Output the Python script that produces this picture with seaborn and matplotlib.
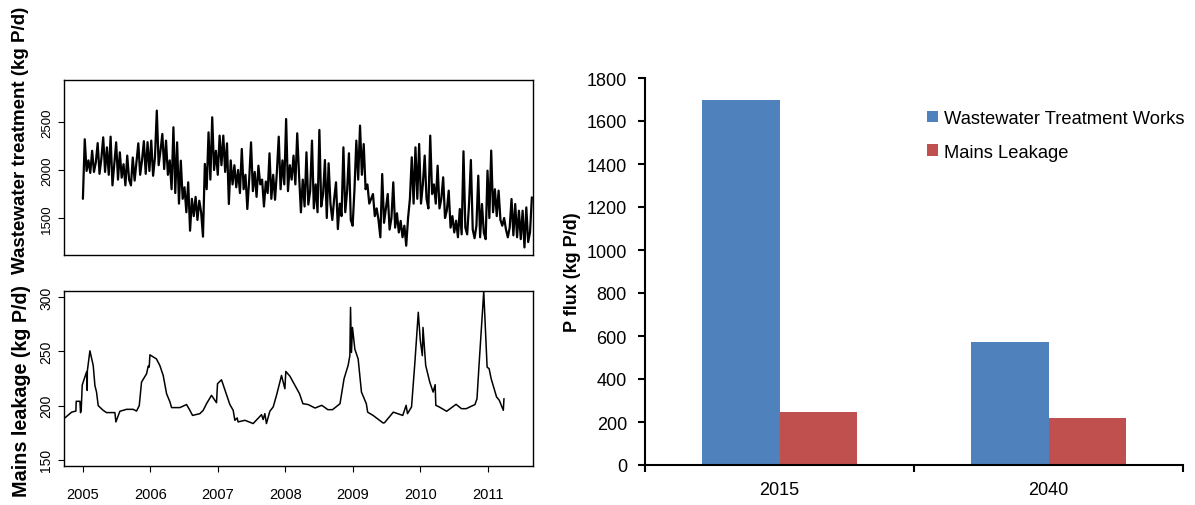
import numpy as np
import pandas as pd
import matplotlib
matplotlib.use("Agg")
import matplotlib.pyplot as plt
import seaborn as sns

# ---------------- data ----------------
# Daily wastewater treatment works P load, sampled every 10 days from 2005-01-01 (kg P/d)
ww_start = "2005-01-01"
ww_values = [
    1700, 2320, 1990, 2100, 1970, 2200, 1980, 2080, 2280, 1960, 2120,
    2340, 1980, 2236, 1950, 2347, 1840, 2060, 2288, 1900, 2184,
    1920, 2060, 1840, 2150, 1900, 1840, 2130, 1890, 2080, 2278,
    1950, 2100, 2300, 1960, 2290, 1990, 2306, 1940, 2130, 2618,
    2050, 2200, 2375, 2010, 2306, 1950, 2100, 1800, 2445, 1760,
    2288, 1650, 2097, 1700, 1820, 1560, 1872, 1368, 1700, 1520,
    1720, 1480, 1680, 1560, 1306, 2063, 1800, 2392, 1900, 2549,
    2000, 2200, 1950, 2358, 2050, 2358, 1980, 2278, 1646, 2100,
    1850, 2050, 1820, 2000, 1760, 2219, 1800, 1950, 1594, 1900,
    2288, 1780, 1980, 1720, 2045, 1850, 1900, 1620, 1880, 1760,
    2174, 1700, 1950, 1690, 1980, 2347, 1800, 2100, 1850, 2531,
    1780, 2050, 1900, 2150, 1850, 2382, 1950, 1559, 1900, 1620,
    2184, 1640, 1780, 2306, 1600, 1850, 1560, 2417, 1620, 1750,
    2104, 1500, 2070, 1650, 1480, 1700, 1872, 1385, 1650, 1520,
    2236, 1560, 1780, 2174, 1480, 1420, 1800, 2306, 1900, 2462,
    1950, 2270, 1800, 1850, 1650, 1700, 1750, 1520, 1600, 1480,
    1299, 1958, 1450, 1600, 1750, 1380, 1500, 1872, 1400, 1550,
    1350, 1470, 1300, 1420, 1212, 1500, 1700, 2132, 1650, 2236,
    1700, 2271, 1650, 1850, 2150, 1700, 1600, 2358, 1750, 1850,
    1650, 2045, 1600, 1700, 1924, 1500, 1580, 1785, 1400, 1520,
    1350, 1472, 1300, 1594, 1330, 2195, 1400, 1330, 1646, 2104,
    1380, 1290, 1420, 1941, 1300, 1646, 1350, 1280, 1993, 1500,
    2202, 1560, 1800, 1520, 1785, 1480, 1420, 1500, 1380, 1299,
    1400, 1698, 1320, 1646, 1300, 1576, 1280, 1576, 1194, 1611, 1250, 1350, 1715,
]

# Mains leakage P load (decimal year, kg P/d)
leak_year = [
    2004.733, 2004.833, 2004.896, 2004.901, 2004.956, 2004.965, 2004.975, 2004.990,
    2005.054, 2005.064, 2005.066, 2005.104, 2005.153, 2005.178, 2005.202, 2005.227,
    2005.300, 2005.350, 2005.474, 2005.489, 2005.548, 2005.647, 2005.745, 2005.795,
    2005.835, 2005.869, 2005.943, 2005.968, 2005.983, 2005.993, 2006.090, 2006.140,
    2006.190, 2006.240, 2006.290, 2006.314, 2006.437, 2006.536, 2006.585, 2006.625,
    2006.733, 2006.783, 2006.832, 2006.906, 2006.980, 2006.995, 2007.054, 2007.178,
    2007.227, 2007.252, 2007.286, 2007.300, 2007.400, 2007.523, 2007.647, 2007.671,
    2007.696, 2007.720, 2007.770, 2007.820, 2007.869, 2007.909, 2007.943, 2007.993,
    2008.007, 2008.067, 2008.210, 2008.260, 2008.338, 2008.440, 2008.540, 2008.630,
    2008.700, 2008.810, 2008.870, 2008.930, 2008.956, 2008.966, 2008.980, 2008.995,
    2009.030, 2009.079, 2009.128, 2009.200, 2009.220, 2009.300, 2009.449, 2009.470,
    2009.600, 2009.740, 2009.790, 2009.810, 2009.870, 2009.920, 2009.970, 2010.000,
    2010.030, 2010.040, 2010.080, 2010.140, 2010.190, 2010.220, 2010.230, 2010.280,
    2010.390, 2010.530, 2010.610, 2010.680, 2010.810, 2010.840, 2010.870, 2010.940,
    2010.990, 2011.020, 2011.050, 2011.130, 2011.170, 2011.230, 2011.240,
]
leak_value = [
    188.7, 194.0, 195.0, 204.0, 204.0, 193.5, 196.0, 219.0,
    231.0, 214.0, 232.0, 250.5, 237.0, 218.5, 212.5, 200.0,
    195.7, 193.6, 193.6, 185.0, 194.8, 196.6, 196.6, 195.0,
    200.0, 221.7, 229.3, 236.4, 235.5, 246.8, 243.0, 237.0,
    227.8, 211.0, 203.4, 198.2, 198.2, 201.0, 195.7, 191.0,
    192.6, 195.7, 201.8, 209.5, 202.7, 220.2, 223.8, 201.0,
    195.7, 186.5, 188.7, 185.0, 186.5, 183.5, 191.7, 187.2,
    192.6, 183.5, 194.8, 198.8, 209.5, 219.3, 227.8, 215.6,
    231.5, 227.2, 211.0, 201.8, 201.0, 197.8, 200.3, 196.3,
    196.3, 201.8, 224.8, 237.0, 246.0, 290.5, 249.0, 272.0,
    252.0, 243.0, 212.5, 201.8, 194.0, 191.0, 184.0, 184.3,
    194.0, 191.0, 200.3, 192.6, 198.8, 240.0, 286.0, 260.0,
    246.0, 272.0, 237.0, 221.7, 212.5, 219.3, 200.3, 198.8,
    194.8, 201.2, 197.2, 197.2, 201.0, 206.4, 237.0, 305.0,
    235.5, 234.0, 224.8, 208.0, 205.0, 195.7, 206.4,
]

# Projected P fluxes (kg P/d)
scenario_years = ["2015", "2040"]
sources = ["Wastewater Treatment Works", "Mains Leakage"]
wwtw_flux = [1700, 572]
leakage_flux = [245, 217]
source_colors = ["#4F81BD", "#C0504D"]

year_ticks = [2005, 2006, 2007, 2008, 2009, 2010, 2011]

# ---------------- style ----------------
sns.set_theme(style="white")
plt.rcParams["font.family"] = ["Liberation Sans", "DejaVu Sans"]
plt.rcParams["axes.edgecolor"] = "black"
plt.rcParams["axes.labelcolor"] = "black"
plt.rcParams["xtick.color"] = "black"
plt.rcParams["ytick.color"] = "black"
plt.rcParams["text.color"] = "black"

W, H = 1195, 506
fig = plt.figure(figsize=(W / 100, H / 100), dpi=100)


def px_axes(left, top, right, bottom):
    return fig.add_axes([left / W, 1 - bottom / H, (right - left) / W, (bottom - top) / H])


# decimal-year positions for the sampled wastewater series
ww_dates = pd.date_range(ww_start, periods=len(ww_values), freq="10D")
ww_year = 2005 + (ww_dates - pd.Timestamp(ww_start)).days / 365.25

# ---- top-left: wastewater treatment ----
ax1 = px_axes(64, 81, 533, 256)
sns.lineplot(x=np.asarray(ww_year), y=ww_values, ax=ax1, color="black",
             lw=1.6, estimator=None, sort=False)
ax1.set_xlim(2004.72, 2011.67)
ax1.set_ylim(1115, 2937)
ax1.set_xticks([])
ax1.set_yticks([1500, 2000, 2500])
ax1.tick_params(axis="y", left=True, direction="out", length=4.3, width=0.8,
                pad=3.5, labelsize=9.5, labelrotation=90)
for lab in ax1.get_yticklabels():
    lab.set_va("center")
for s in ax1.spines.values():
    s.set_linewidth(1.0)
    s.set_color("black")
ax1.set_xlabel("")
ax1.set_ylabel("")

# ---- bottom-left: mains leakage ----
ax2 = px_axes(64, 292, 533, 467)
sns.lineplot(x=leak_year, y=leak_value, ax=ax2, color="black",
             lw=1.1, estimator=None, sort=False)
ax2.set_xlim(2004.72, 2011.67)
ax2.set_ylim(144.4, 305.6)
ax2.set_xticks(year_ticks)
ax2.set_xticklabels([str(y) for y in year_ticks])
ax2.set_yticks([150, 200, 250, 300])
ax2.tick_params(axis="y", left=True, direction="out", length=4.3, width=0.8,
                pad=3.5, labelsize=10, labelrotation=90)
ax2.tick_params(axis="x", bottom=True, direction="out", length=4.3, width=0.8,
                pad=11, labelsize=10.5)
for lab in ax2.get_yticklabels():
    lab.set_va("center")
for s in ax2.spines.values():
    s.set_linewidth(1.0)
    s.set_color("black")
ax2.set_xlabel("")
ax2.set_ylabel("")

fig.text(21 / W, 1 - 140 / H, "Wastewater treatment (kg P/d)", rotation=90,
         ha="center", va="center", fontsize=13.5, fontweight="bold")
fig.text(22 / W, 1 - 391 / H, "Mains leakage (kg P/d)", rotation=90,
         ha="center", va="center", fontsize=14.2, fontweight="bold")

# ---- right: projected fluxes ----
flux_df = pd.DataFrame({
    "year": scenario_years * 2,
    "source": [sources[0]] * len(scenario_years) + [sources[1]] * len(scenario_years),
    "flux": wwtw_flux + leakage_flux,
})
ax3 = px_axes(645, 79, 1183, 466)
sns.barplot(data=flux_df, x="year", y="flux", hue="source", hue_order=sources,
            order=scenario_years, palette=source_colors, saturation=1,
            width=0.573, ax=ax3, linewidth=0)
ax3.set_xlim(-0.5, 1.5)
ax3.set_ylim(0, 1800)
ax3.set_yticks(range(0, 1801, 200))
ax3.tick_params(axis="y", left=True, direction="out", length=5, width=1.5,
                pad=8, labelsize=13)
ax3.set_xticks([0, 1])
ax3.set_xticklabels(scenario_years)
ax3.set_xticks([-0.5, 0.5, 1.5], minor=True)
ax3.tick_params(axis="x", which="major", bottom=False, length=0, pad=11.5, labelsize=13)
ax3.tick_params(axis="x", which="minor", bottom=True, direction="out", length=5, width=1.5)
for side in ("top", "right"):
    ax3.spines[side].set_visible(False)
for side in ("left", "bottom"):
    ax3.spines[side].set_linewidth(1.5)
    ax3.spines[side].set_color("black")
ax3.set_xlabel("")
ax3.set_ylabel("P flux (kg P/d)", fontsize=13, fontweight="bold", labelpad=4)

handles, labels = ax3.get_legend_handles_labels()
ax3.legend(handles, labels, loc="upper left",
           bbox_to_anchor=(927 / W, 1 - 111 / H), bbox_transform=fig.transFigure,
           frameon=False, fontsize=13.2, handlelength=0.6, handleheight=0.6,
           handletextpad=0.3, labelspacing=0.9, borderpad=0, borderaxespad=0)

fig.savefig("out.png", dpi=100, facecolor="white")
